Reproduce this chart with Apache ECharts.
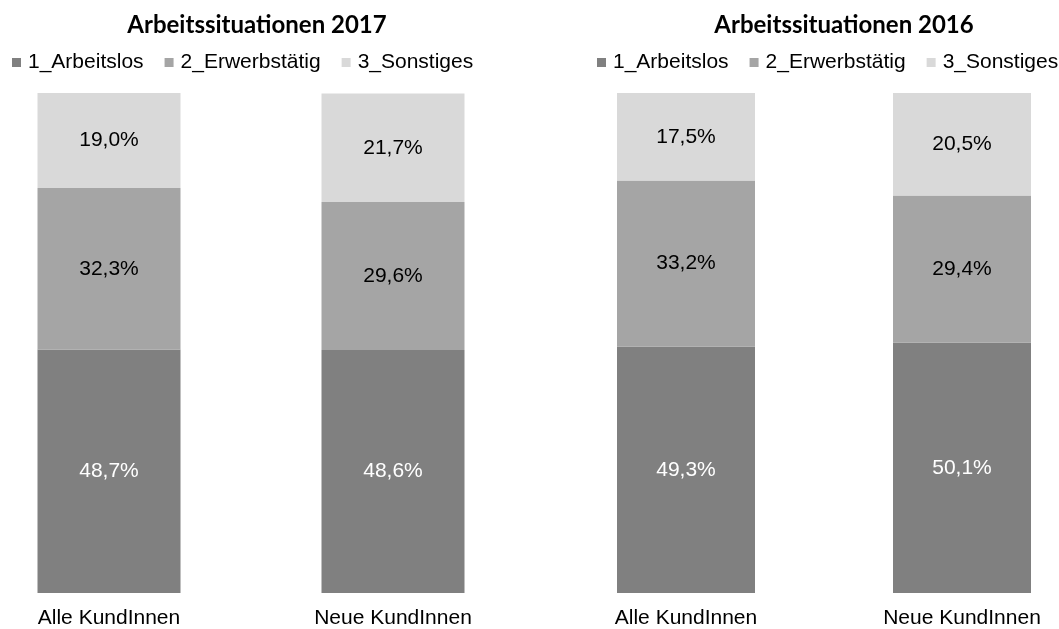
<!DOCTYPE html>
<html>
<head>
<meta charset="utf-8">
<script src="https://cdn.jsdelivr.net/npm/echarts@6/dist/echarts.min.js"></script>
<style>
  html, body { margin: 0; padding: 0; background: #fff; }
  #chart { width: 1059px; height: 629px; }
</style>
</head>
<body>
<div id="chart"></div>
<script>
// Kategorien und Reihen
const categories = ['Alle KundInnen', 'Neue KundInnen'];
const seriesNames = ['1_Arbeitslos', '2_Erwerbstätig', '3_Sonstiges'];
const titles = ['Arbeitssituationen 2017', 'Arbeitssituationen 2016'];

// Anteile in Prozent (je Kategorie)
const arbeitslos2017 = [48.7, 48.6];
const erwerbstaetig2017 = [32.3, 29.6];
const sonstiges2017 = [19.0, 21.7];

const arbeitslos2016 = [49.3, 50.1];
const erwerbstaetig2016 = [33.2, 29.4];
const sonstiges2016 = [17.5, 20.5];

const colors = ['#808080', '#a5a5a5', '#d9d9d9'];
const labelColors = ['#ffffff', '#000000', '#000000'];
const FONT = '"Liberation Sans", Arial, sans-serif';
const TITLE_FONT = 'Lato, "Open Sans", sans-serif';

const fmt = p => p.value.toFixed(1).replace('.', ',') + '%';

function barSeries(idx, values) {
  return values.map((v, i) => ({
    name: seriesNames[i],
    type: 'bar',
    stack: 'total' + idx,
    xAxisIndex: idx,
    yAxisIndex: idx,
    barWidth: idx === 0 ? 143 : 138,
    clip: false,
    data: v,
    itemStyle: { color: colors[i] },
    label: {
      show: true,
      position: 'inside',
      formatter: fmt,
      color: labelColors[i],
      fontFamily: FONT,
      fontSize: 21
    }
  }));
}

const chart = echarts.init(document.getElementById('chart'), null, { renderer: 'canvas' });

// Kategorien sitzen auf den Enden der Achse, die Säulen ragen seitlich hinaus
const axisX = (idx) => ({
  type: 'category',
  gridIndex: idx,
  data: categories,
  boundaryGap: false,
  axisLine: { show: false },
  axisTick: { show: false },
  axisLabel: { color: '#000', fontFamily: FONT, fontSize: 21, margin: 15, showMinLabel: true, showMaxLabel: true, interval: 0 }
});
const axisY = (idx) => ({
  type: 'value',
  gridIndex: idx,
  min: 0,
  max: 100,
  show: false,
  splitLine: { show: false }
});

const legendCommon = {
  data: seriesNames,
  top: 47,
  width: 480,
  icon: 'rect',
  itemWidth: 9,
  itemHeight: 9,
  itemGap: 21,
  textStyle: { color: '#000', fontFamily: FONT, fontSize: 21, padding: [0, 0, 0, 2] },
  selectedMode: false
};

const titleStyle = { fontFamily: TITLE_FONT, fontWeight: 'bold', fontSize: 24, color: '#000' };

chart.setOption({
  animation: false,
  title: [
    { text: titles[0], left: 252, top: 8, textAlign: 'center', textStyle: titleStyle },
    { text: titles[1], left: 839, top: 8, textAlign: 'center', textStyle: titleStyle }
  ],
  legend: [
    Object.assign({ left: 7 }, legendCommon),
    Object.assign({ left: 592 }, legendCommon)
  ],
  grid: [
    { left: 109, width: 284, top: 93, bottom: 33 },
    { left: 686, width: 276, top: 93, bottom: 33 }
  ],
  xAxis: [axisX(0), axisX(1)],
  yAxis: [axisY(0), axisY(1)],
  series: [
    ...barSeries(0, [arbeitslos2017, erwerbstaetig2017, sonstiges2017]),
    ...barSeries(1, [arbeitslos2016, erwerbstaetig2016, sonstiges2016])
  ]
});
</script>
</body>
</html>
